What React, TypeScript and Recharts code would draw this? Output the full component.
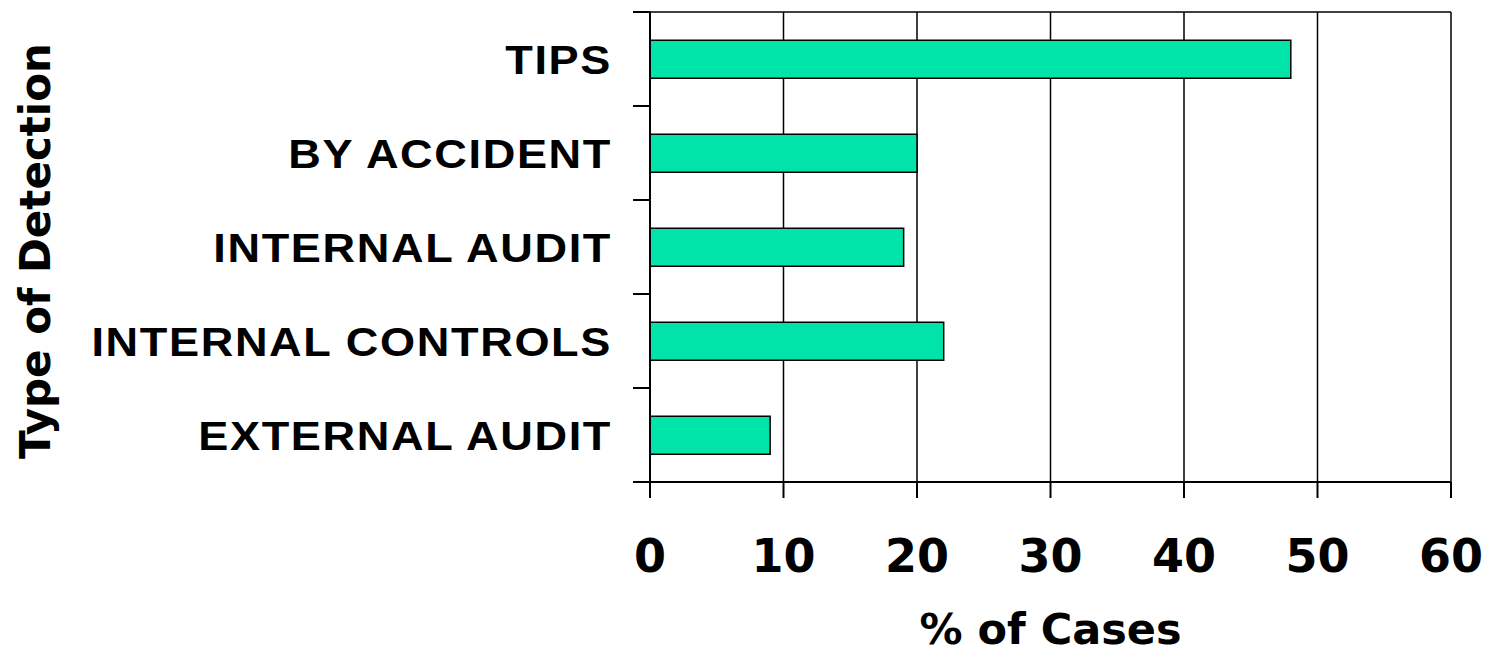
import React from 'react';
import {
  BarChart,
  Bar,
  XAxis,
  YAxis,
  CartesianGrid,
} from 'recharts';

const categories = [
  'TIPS',
  'BY ACCIDENT',
  'INTERNAL AUDIT',
  'INTERNAL CONTROLS',
  'EXTERNAL AUDIT',
];
const percentOfCases = [48, 20, 19, 22, 9];
const xTicks = [0, 10, 20, 30, 40, 50, 60];

const data = categories.map((name, i) => ({ name, value: percentOfCases[i] }));

const Y_TICK_SIZE = 17;
const Y_TICK_MARGIN = 21;
const labelFont = '"Liberation Sans", Arial, sans-serif';
const numFont = '"DejaVu Sans", Verdana, sans-serif';

// category labels in the source look horizontally stretched
function CategoryTick(props: any) {
  const { x, y, payload } = props;
  const half = payload && payload.offset ? payload.offset : 47;
  const axisX = x + Y_TICK_MARGIN + Y_TICK_SIZE;
  return (
    <g>
      <g transform={`translate(${x} ${y}) scale(1.1 1)`}>
        <text
          x={0}
          y={0}
          dy="0.355em"
          textAnchor="end"
          fill="#000"
          fontFamily={labelFont}
          fontWeight="bold"
          fontSize={41}
          letterSpacing={1.5}
        >
          {payload.value}
        </text>
      </g>
      <line x1={axisX - Y_TICK_SIZE} x2={axisX} y1={y - half} y2={y - half} stroke="#000" strokeWidth={2} />
      <line x1={axisX - Y_TICK_SIZE} x2={axisX} y1={y + half} y2={y + half} stroke="#000" strokeWidth={2} />
    </g>
  );
}

function YTitle(props: any) {
  const { viewBox } = props;
  const cx = viewBox.x + 35;
  const cy = viewBox.y + viewBox.height / 2 + 4;
  return (
    <text
      x={cx}
      y={cy}
      dy="0.36em"
      transform={`rotate(-90 ${cx} ${cy})`}
      textAnchor="middle"
      fill="#000"
      fontFamily={numFont}
      fontWeight="bold"
      fontSize={42}
    >
      Type of Detection
    </text>
  );
}

function XTitle(props: any) {
  const { viewBox } = props;
  const cx = viewBox.x + viewBox.width / 2;
  return (
    <text
      x={cx}
      y={viewBox.y + 162}
      textAnchor="middle"
      fill="#000"
      fontFamily={numFont}
      fontWeight="bold"
      fontSize={43}
    >
      % of Cases
    </text>
  );
}

export default function App() {
  return (
    <div style={{ position: 'absolute', left: 0, top: 0, background: '#fff' }}>
      <BarChart
        width={1488}
        height={655}
        data={data}
        layout="vertical"
        margin={{ top: 12, right: 37, bottom: 0, left: 0 }}
        barCategoryGap="30%"
      >
        <CartesianGrid
          stroke="#000"
          strokeWidth={1.5}
          horizontalCoordinatesGenerator={({ offset }: any) => [offset.top]}
        />
        <XAxis
          type="number"
          domain={[0, 60]}
          ticks={xTicks}
          interval={0}
          height={173}
          tickSize={16}
          tickMargin={41}
          axisLine={{ stroke: '#000', strokeWidth: 2 }}
          tickLine={{ stroke: '#000', strokeWidth: 2 }}
          tick={{ fill: '#000', fontFamily: numFont, fontWeight: 'bold', fontSize: 46 }}
          label={{ content: XTitle }}
        />
        <YAxis
          type="category"
          dataKey="name"
          width={650}
          interval={0}
          tickSize={Y_TICK_SIZE}
          tickMargin={Y_TICK_MARGIN}
          tickLine={false}
          axisLine={{ stroke: '#000', strokeWidth: 2 }}
          tick={<CategoryTick />}
          label={{ content: YTitle }}
        />
        <Bar
          dataKey="value"
          fill="#00E4AA"
          stroke="#000"
          strokeWidth={1.5}
          isAnimationActive={false}
        />
      </BarChart>
    </div>
  );
}
